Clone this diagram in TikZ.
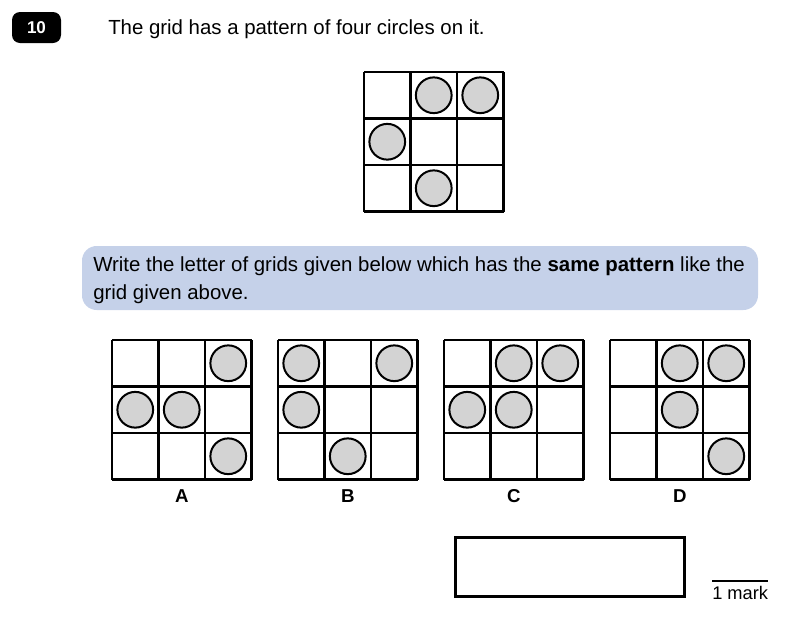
\documentclass[tikz,border=0pt]{standalone}
\usepackage{fontspec}
\setmainfont{Liberation Sans}
\usetikzlibrary{positioning}

\definecolor{boxblue}{HTML}{C5D1E9}
\definecolor{dotgray}{HTML}{D3D3D3}

\tikzset{
  gridline/.style={line width=1.9pt},
  dot/.style={draw, line width=1.5pt, fill=dotgray},
  txt/.style={font=\fontsize{15.3pt}{18pt}\selectfont, inner sep=0pt},
  letter/.style={font=\fontsize{14pt}{16pt}\selectfont\bfseries, inner sep=0pt}
}

\begin{document}
\begin{tikzpicture}[x=0.75pt,y=-0.75pt]
		\useasboundingbox (0,0) rectangle (800,618);

		% Question number and text
		\node[fill=black, rounded corners=6pt, minimum width=36.75pt, minimum height=23.25pt,
		  text=white, font=\fontsize{12.8pt}{14pt}\selectfont\bfseries] (num) at (36.5,27.5) {10};
		\node[txt, anchor=base west] (question) at (108,34.5) {The grid has a pattern of four circles on it.};

		% Given grid
		\begin{scope}[shift={(364,72)}]
			\foreach \k in {0,1,2,3} {
				\draw[gridline] (46.5*\k,0) -- (46.5*\k,139.5);
				\draw[gridline] (0,46.5*\k) -- (139.5,46.5*\k);
			}
			\foreach \c/\r in {1/0,2/0,0/1,1/2}
				\draw[dot] (46.5*\c+23.25,46.5*\r+23.25) circle[radius=13.4pt];
		\end{scope}

		% Instruction box
		\fill[boxblue, rounded corners=11pt] (82,246) rectangle (758,310);
		\node[txt, anchor=base west] (line1) at (93,271)
		  {Write the letter of grids given below which has the \textbf{same pattern} like the};
		\node[txt, anchor=base west] (line2) at (93,299) {grid given above.};

		% Answer grids
		\foreach \gx/\name/\cells in {112/A/{2/0,0/1,1/1,2/2}, 278/B/{0/0,2/0,0/1,1/2},
		                              444/C/{1/0,2/0,0/1,1/1}, 610/D/{1/0,2/0,1/1,2/2}} {
			\begin{scope}[shift={(\gx,340)}]
				\foreach \k in {0,1,2,3} {
					\draw[gridline] (46.5*\k,0) -- (46.5*\k,139.5);
					\draw[gridline] (0,46.5*\k) -- (139.5,46.5*\k);
				}
				\foreach \c/\r in \cells
					\draw[dot] (46.5*\c+23.25,46.5*\r+23.25) circle[radius=13.4pt];
				\node[letter] (label\name) at (69.75,156) {\name};
			\end{scope}
		}

		% Answer box and mark
		\draw[line width=2.3pt] (455.5,537.5) rectangle (684.5,596.5);
		\node[font=\fontsize{13.7pt}{15pt}\selectfont, inner sep=0pt, anchor=base west] (mark) at (712,599) {1 mark};
		\draw[line width=0.9pt] (mark.west |- 0,581) -- (mark.east |- 0,581);
	\end{tikzpicture}
\end{document}
